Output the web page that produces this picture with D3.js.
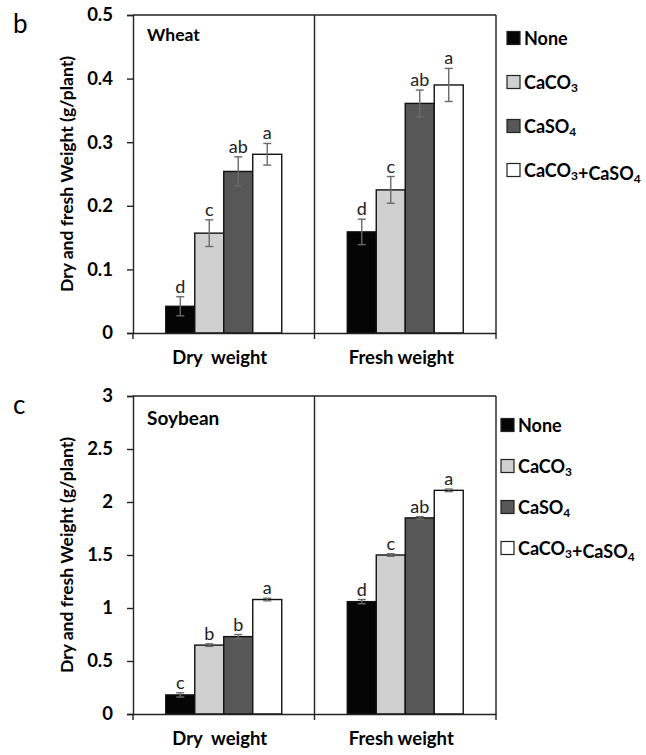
<!DOCTYPE html>
<html lang="en">
<head>
<meta charset="utf-8">
<title>Wheat and soybean weight</title>
<script src="https://d3js.org/d3.v7.min.js"></script>
<style>
  body { margin: 0; background: #fff; }
  svg { display: block; font-family: Lato, "Open Sans", sans-serif; }
</style>
</head>
<body>
<script>
// categories and treatments
const categories = ['Dry  weight', 'Fresh weight'];
const treatments = ['None', 'CaCO3', 'CaSO4', 'CaCO3+CaSO4'];
const fills = ['#050505', '#d0d0d0', '#575757', '#ffffff'];

// wheat (panel b)
const wheatValues = [[0.042, 0.157, 0.254, 0.281], [0.159, 0.225, 0.361, 0.390]];
const wheatErrors = [[0.015, 0.021, 0.023, 0.017], [0.020, 0.021, 0.021, 0.026]];
const wheatLetters = [['d', 'c', 'ab', 'a'], ['d', 'c', 'ab', 'a']];
const wheatTicks = [0, 0.1, 0.2, 0.3, 0.4, 0.5];

// soybean (panel c)
const soyValues = [[0.18, 0.65, 0.73, 1.08], [1.06, 1.50, 1.85, 2.11]];
const soyErrors = [[0.02, 0.012, 0.02, 0.012], [0.02, 0.012, 0.012, 0.012]];
const soyLetters = [['c', 'b', 'b', 'a'], ['d', 'c', 'ab', 'a']];
const soyTicks = [0, 0.5, 1, 1.5, 2, 2.5, 3];

const yTitle = 'Dry and fresh Weight (g/plant)';

const w = 646;
const h = 755;
const left = 133;
const right = 496;

const svg = d3.select('body')
  .append('svg')
  .attr('width', w)
  .attr('height', h);

function drawPanel(opt) {
  const g = svg.append('g');
  const y = d3.scaleLinear()
    .domain([0, opt.yMax])
    .range([opt.bottom, opt.top]);
  const x = d3.scaleBand()
    .domain(categories)
    .range([left, right]);
  const xi = d3.scaleBand()
    .domain(treatments)
    .range([0, x.bandwidth()])
    .paddingOuter(1.13);

  const rows = [];
  categories.forEach((c, ci) => {
    treatments.forEach((t, ti) => {
      rows.push({
        cat: c, t: t, i: ti,
        v: opt.values[ci][ti],
        e: opt.errors[ci][ti],
        l: opt.letters[ci][ti]
      });
    });
  });

  // bars
  g.selectAll('rect.bar')
    .data(rows)
    .enter()
    .append('rect')
    .attr('class', 'bar')
    .attr('x', d => x(d.cat) + xi(d.t))
    .attr('y', d => y(d.v))
    .attr('width', xi.bandwidth())
    .attr('height', d => y(0) - y(d.v))
    .attr('fill', d => fills[d.i])
    .attr('stroke', '#111')
    .attr('stroke-width', 1.4);

  // error bars
  const eb = g.selectAll('g.err')
    .data(rows)
    .enter()
    .append('g')
    .attr('class', 'err')
    .attr('stroke', '#6a6a6a')
    .attr('stroke-width', 1.4);
  const cx = d => x(d.cat) + xi(d.t) + xi.bandwidth() / 2;
  eb.append('line')
    .attr('x1', cx).attr('x2', cx)
    .attr('y1', d => y(d.v + d.e)).attr('y2', d => y(d.v - d.e));
  eb.append('line')
    .attr('x1', d => cx(d) - 4).attr('x2', d => cx(d) + 4)
    .attr('y1', d => y(d.v + d.e)).attr('y2', d => y(d.v + d.e));
  eb.append('line')
    .attr('x1', d => cx(d) - 4).attr('x2', d => cx(d) + 4)
    .attr('y1', d => y(d.v - d.e)).attr('y2', d => y(d.v - d.e));

  // significance letters
  g.selectAll('text.letter')
    .data(rows)
    .enter()
    .append('text')
    .attr('class', 'letter')
    .attr('x', cx)
    .attr('y', d => y(d.v + d.e) - 4)
    .attr('text-anchor', 'middle')
    .attr('font-size', 18)
    .attr('fill', '#222')
    .text(d => d.l);

  // y axis
  const yAxis = d3.axisLeft(y)
    .tickValues(opt.ticks)
    .tickSize(6)
    .tickPadding(14)
    .tickFormat(d => String(d));
  g.append('g')
    .attr('transform', 'translate(' + left + ',0)')
    .call(yAxis)
    .call(a => a.select('.domain').attr('stroke', '#222').attr('stroke-width', 1.4))
    .call(a => a.selectAll('.tick line').attr('stroke', '#222').attr('stroke-width', 1.4))
    .call(a => a.selectAll('.tick text')
      .attr('font-family', 'Lato, sans-serif')
      .attr('font-size', 18.5)
      .attr('font-weight', 'bold')
      .attr('fill', '#000'));

  // x axis baseline with ticks between categories
  const xAxis = d3.axisBottom(x).tickSize(0).tickFormat('');
  g.append('g')
    .attr('transform', 'translate(0,' + opt.bottom + ')')
    .call(xAxis)
    .call(a => a.select('.domain').attr('stroke', '#222').attr('stroke-width', 1.4));
  const edges = categories.map(c => x(c)).concat([right]);
  g.selectAll('line.xtick')
    .data(edges)
    .enter()
    .append('line')
    .attr('x1', d => d).attr('x2', d => d)
    .attr('y1', opt.bottom).attr('y2', opt.bottom + 6)
    .attr('stroke', '#222').attr('stroke-width', 1.4);

  // frame: top, right, divider
  g.append('line')
    .attr('x1', left).attr('x2', right)
    .attr('y1', opt.top).attr('y2', opt.top)
    .attr('stroke', '#222').attr('stroke-width', 1.4);
  g.selectAll('line.div')
    .data(categories.slice(1).map(c => x(c)).concat([right]))
    .enter()
    .append('line')
    .attr('x1', d => d).attr('x2', d => d)
    .attr('y1', opt.top).attr('y2', opt.bottom)
    .attr('stroke', '#222').attr('stroke-width', 1.4);

  // category labels
  g.selectAll('text.cat')
    .data(categories)
    .enter()
    .append('text')
    .attr('x', d => x(d) + x.bandwidth() / 2 - 4)
    .attr('y', opt.bottom + 31)
    .attr('text-anchor', 'middle')
    .attr('font-size', 18.5)
    .attr('font-weight', 'bold')
    .style('white-space', 'pre')
    .text(d => d);

  // y title
  g.append('text')
    .attr('transform', 'translate(' + 73 + ',' + ((opt.top + opt.bottom) / 2) + ') rotate(-90)')
    .attr('text-anchor', 'middle')
    .attr('font-size', 17.5)
    .attr('font-weight', 'bold')
    .text(yTitle);

  // crop name and panel letter
  g.append('text')
    .attr('x', 147)
    .attr('y', opt.top + opt.nameDy)
    .attr('font-size', opt.nameSize)
    .attr('font-weight', 'bold')
    .text(opt.name);
  g.append('text')
    .attr('x', 13)
    .attr('y', opt.top + 18)
    .attr('font-size', 26)
    .text(opt.panel);

  // legend
  const leg = g.selectAll('g.leg')
    .data(treatments)
    .enter()
    .append('g')
    .attr('transform', (d, i) => 'translate(' + opt.legX + ',' + (opt.legY + i * opt.legStep) + ')');
  leg.append('rect')
    .attr('x', 0).attr('y', -6.5)
    .attr('width', 13).attr('height', 13)
    .attr('fill', (d, i) => fills[i])
    .attr('stroke', '#222')
    .attr('stroke-width', 1.2);
  const lt = leg.append('text')
    .attr('x', 17)
    .attr('y', 7)
    .attr('font-size', 18)
    .attr('font-weight', 'bold');
  lt.each(function (d) {
    const t = d3.select(this);
    d.split(/(\d)/).filter(s => s.length).forEach(s => {
      if (/\d/.test(s)) {
        t.append('tspan').attr('font-size', 12).attr('dy', 3).text(s);
        t.append('tspan').attr('dy', -3).text('');
      } else {
        t.append('tspan').text(s);
      }
    });
  });
}

drawPanel({
  top: 15, bottom: 333, yMax: 0.5, ticks: wheatTicks,
  values: wheatValues, errors: wheatErrors, letters: wheatLetters,
  name: 'Wheat', nameDy: 26, nameSize: 17.5, panel: 'b',
  legX: 507, legY: 38, legStep: 44
});

drawPanel({
  top: 396, bottom: 714, yMax: 3, ticks: soyTicks,
  values: soyValues, errors: soyErrors, letters: soyLetters,
  name: 'Soybean', nameDy: 29, nameSize: 19, panel: 'c',
  legX: 501, legY: 425, legStep: 41
});
</script>
</body>
</html>
